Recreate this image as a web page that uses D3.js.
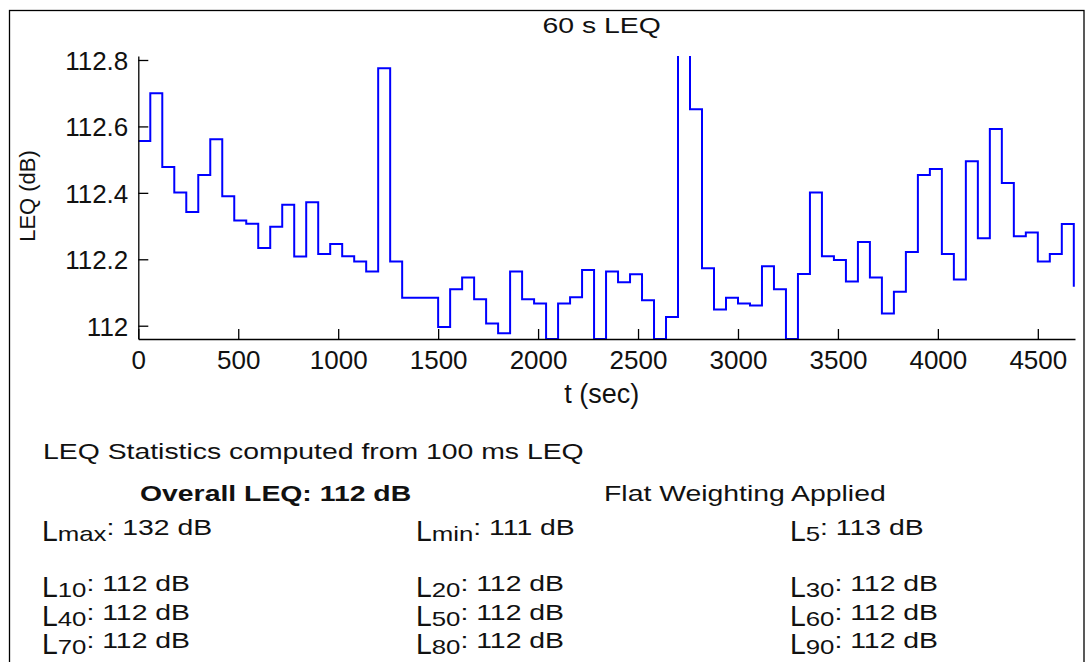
<!DOCTYPE html>
<html>
<head>
<meta charset="utf-8">
<script src="https://cdn.jsdelivr.net/npm/d3@7"></script>
<style>
  html, body { margin: 0; padding: 0; background: #fff; }
  svg { display: block; font-family: "Liberation Sans", Arial, sans-serif; }
</style>
</head>
<body>
<svg id="chart" width="1086" height="662"></svg>
<script>
// Start time of each 60 s LEQ block (s)
const times = [
  0, 60, 120, 180, 240, 300, 360, 420, 480, 540,
  600, 660, 720, 780, 840, 900, 960, 1020, 1080, 1140,
  1200, 1260, 1320, 1380, 1440, 1500, 1560, 1620, 1680, 1740,
  1800, 1860, 1920, 1980, 2040, 2100, 2160, 2220, 2280, 2340,
  2400, 2460, 2520, 2580, 2640, 2700, 2760, 2820, 2880, 2940,
  3000, 3060, 3120, 3180, 3240, 3300, 3360, 3420, 3480, 3540,
  3600, 3660, 3720, 3780, 3840, 3900, 3960, 4020, 4080, 4140,
  4200, 4260, 4320, 4380, 4440, 4500, 4560, 4620, 4680
];

// 60 s LEQ values (dB)
const leq = [
  112.556, 112.700, 112.478, 112.401, 112.342, 112.454, 112.561, 112.390, 112.317, 112.307,
  112.234, 112.298, 112.364, 112.208, 112.372, 112.216, 112.246, 112.209, 112.193, 112.163,
  112.775, 112.193, 112.084, 112.084, 112.084, 111.996, 112.110, 112.145, 112.080, 112.007,
  111.977, 112.163, 112.080, 112.067, 111.960, 112.067, 112.086, 112.168, 111.960, 112.163,
  112.131, 112.155, 112.077, 111.960, 112.026, 113.400, 112.652, 112.173, 112.049, 112.084,
  112.067, 112.061, 112.179, 112.110, 111.960, 112.156, 112.401, 112.209, 112.198, 112.133,
  112.252, 112.145, 112.037, 112.102, 112.222, 112.454, 112.472, 112.216, 112.139, 112.495,
  112.263, 112.592, 112.430, 112.269, 112.281, 112.193, 112.216, 112.306, 112.117
];

const xLimits = [0, 4686];
const yLimits = [111.96, 112.812];
const xTicks = [0, 500, 1000, 1500, 2000, 2500, 3000, 3500, 4000, 4500];
const yTicks = [112, 112.2, 112.4, 112.6, 112.8];
const yTickLabels = ["112", "112.2", "112.4", "112.6", "112.8"];

const titleText = "60 s LEQ";
const xLabel = "t (sec)";
const yLabel = "LEQ (dB)";

// Summary statistics block
const statsHeader = "LEQ Statistics computed from 100 ms LEQ";
const overallText = "Overall LEQ: 112 dB";
const weightingText = "Flat Weighting Applied";
const extremeStats = [
  { sub: "max", value: 132 },
  { sub: "min", value: 111 },
  { sub: "5", value: 113 }
];
const percentileStats = [
  { sub: "10", value: 112 }, { sub: "20", value: 112 }, { sub: "30", value: 112 },
  { sub: "40", value: 112 }, { sub: "50", value: 112 }, { sub: "60", value: 112 },
  { sub: "70", value: 112 }, { sub: "80", value: 112 }, { sub: "90", value: 112 }
];

const svg = d3.select("#chart");

svg.append("rect").attr("width", 1086).attr("height", 662).attr("fill", "#fff");

// figure frame
svg.append("rect")
  .attr("x", 9.5).attr("y", 10.5)
  .attr("width", 1074.5).attr("height", 700)
  .attr("fill", "none").attr("stroke", "#000").attr("stroke-width", 1.3);

const x = d3.scaleLinear().domain(xLimits).range([138.3, 1075]);
const y = d3.scaleLinear().domain(yLimits).range([339, 56]);

// clip region of the axes
svg.append("clipPath").attr("id", "plotClip")
  .append("rect")
  .attr("x", x.range()[0]).attr("y", y.range()[1])
  .attr("width", x.range()[1] - x.range()[0] + 1)
  .attr("height", y.range()[0] - y.range()[1] + 1);

// stairs line
const line = d3.line()
  .x((d, i) => x(times[i]))
  .y(d => y(d))
  .curve(d3.curveStepAfter);

svg.append("path")
  .datum(leq)
  .attr("clip-path", "url(#plotClip)")
  .attr("d", line)
  .attr("fill", "none")
  .attr("stroke", "#0000ff")
  .attr("stroke-width", 2);

// axes
const yAxis = d3.axisLeft(y)
  .tickValues(yTicks)
  .tickFormat((d, i) => yTickLabels[i])
  .tickSizeInner(-10)
  .tickSizeOuter(0)
  .tickPadding(10);

const xAxis = d3.axisBottom(x)
  .tickValues(xTicks)
  .tickFormat(d3.format("d"))
  .tickSizeInner(-10)
  .tickSizeOuter(0)
  .tickPadding(12);

function styleAxis(g) {
  g.select(".domain").attr("stroke", "#000").attr("stroke-width", 1.3);
  g.selectAll(".tick line").attr("stroke", "#000").attr("stroke-width", 1.3);
  g.selectAll(".tick text")
    .attr("fill", "#111")
    .style("font-family", "'Liberation Sans', Arial, sans-serif")
    .style("font-size", "26px");
}

const gy = svg.append("g")
  .attr("transform", `translate(${x.range()[0]},0)`)
  .call(yAxis)
  .call(styleAxis);
gy.selectAll(".tick text").attr("dy", "0.36em");

svg.append("g")
  .attr("transform", `translate(0,${y.range()[0]})`)
  .call(xAxis)
  .call(styleAxis);

// axis labels and title
svg.append("text")
  .attr("x", 601.7).attr("y", 403)
  .attr("text-anchor", "middle")
  .attr("font-size", 27)
  .attr("fill", "#111")
  .text(xLabel);

svg.append("text")
  .attr("transform", "translate(35,196) rotate(-90)")
  .attr("text-anchor", "middle")
  .attr("font-size", 22)
  .attr("fill", "#111")
  .text(yLabel);

// wide text used by the title and the statistics block
const SX = 1.29;
function wideGroup(xPos, baseline) {
  return svg.append("g")
    .attr("transform", `translate(${xPos},${baseline}) scale(${SX},1)`);
}
function wideText(xPos, baseline, anchor) {
  return wideGroup(xPos, baseline)
    .append("text")
    .attr("text-anchor", anchor || "start")
    .attr("font-size", 22)
    .attr("fill", "#111");
}

wideText(601.7, 33.3, "middle").text(titleText);

wideText(43, 459).text(statsHeader);
wideText(140, 501).attr("font-weight", "bold").text(overallText);
wideText(604, 501).text(weightingText);

const colX = [42, 416, 790];
const SUB_DROP = 6;

// "L" stretched down to the subscript baseline, then subscript and value
function levelText(xPos, baseline, s) {
  const g = wideGroup(xPos, baseline);
  g.append("text")
    .attr("transform", `translate(0,${SUB_DROP}) scale(1,1.38)`)
    .attr("font-size", 22)
    .attr("fill", "#111")
    .text("L");
  const t = g.append("text")
    .attr("x", 12.2)
    .attr("font-size", 22)
    .attr("fill", "#111");
  t.append("tspan").attr("font-size", 20).attr("dy", SUB_DROP).text(s.sub);
  t.append("tspan").attr("dy", -SUB_DROP).text(`: ${s.value} dB`);
}

extremeStats.forEach((s, i) => levelText(colX[i], 535, s));

const rowBase = [591, 619.5, 648];
percentileStats.forEach((s, i) => {
  levelText(colX[i % 3], rowBase[Math.floor(i / 3)], s);
});
</script>
</body>
</html>
